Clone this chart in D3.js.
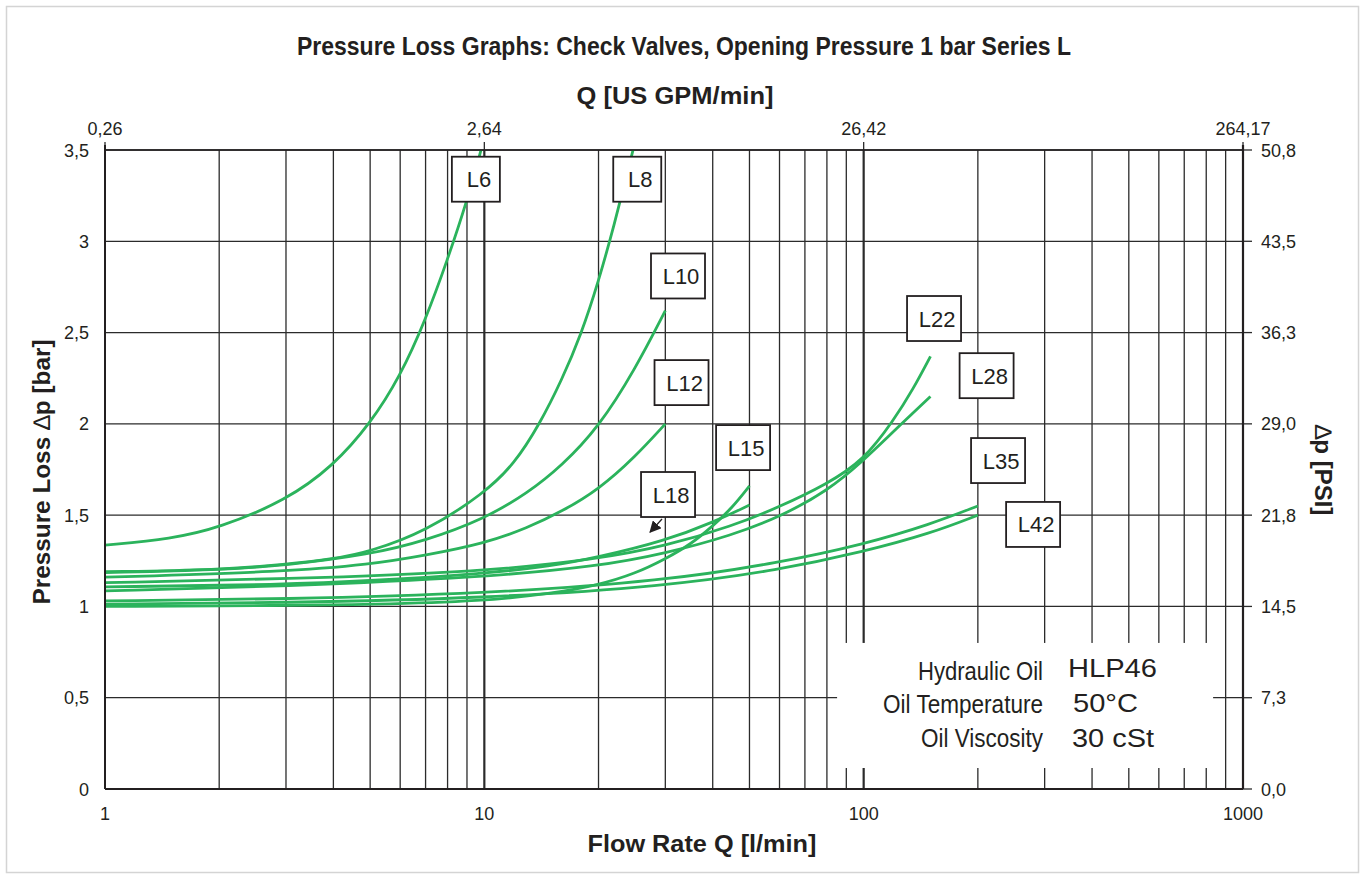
<!DOCTYPE html>
<html>
<head>
<meta charset="utf-8">
<script src="https://cdn.jsdelivr.net/npm/d3@7"></script>
<style>
  body { margin: 0; background: #fff; }
  text { font-family: "Liberation Sans", Arial, sans-serif; fill: #231f20; }
</style>
</head>
<body>
<script>
let width = 1368;
let height = 880;

// axis ticks and labels
const flowTicks = [1, 10, 100, 1000];
const gpmLabels = ["0,26", "2,64", "26,42", "264,17"];
const barTicks = [0, 0.5, 1, 1.5, 2, 2.5, 3, 3.5];
const barLabels = ["0", "0,5", "1", "1,5", "2", "2,5", "3", "3,5"];
const psiLabels = ["0,0", "7,3", "14,5", "21,8", "29,0", "36,3", "43,5", "50,8"];

// pressure loss curves, [Q l/min, dp bar]
const L6 = [[1, 1.336], [1.5, 1.37], [2, 1.43], [3, 1.58], [4, 1.77], [5, 2.0], [6, 2.26], [7, 2.57], [8, 2.9], [9, 3.22], [9.8, 3.5]];
const L8 = [[1, 1.19], [2, 1.2], [3, 1.23], [4, 1.26], [5, 1.3], [7, 1.41], [10, 1.62], [12, 1.78], [14, 2.0], [16, 2.24], [18, 2.49], [20, 2.78], [22, 3.09], [24, 3.4], [25, 3.55]];
const L10 = [[1, 1.185], [2, 1.2], [3, 1.225], [5, 1.285], [7, 1.36], [10, 1.48], [13, 1.62], [16, 1.77], [20, 1.98], [25, 2.3], [30, 2.62]];
const L12 = [[1, 1.16], [3, 1.19], [5, 1.23], [7, 1.28], [10, 1.345], [13, 1.43], [16, 1.52], [20, 1.64], [25, 1.82], [30, 2.0]];
const L15 = [[1, 1.0], [3, 1.005], [5, 1.01], [10, 1.03], [15, 1.07], [20, 1.117], [25, 1.18], [30, 1.26], [35, 1.34], [40, 1.44], [45, 1.54], [50, 1.66]];
const L18 = [[1, 1.107], [3, 1.12], [5, 1.14], [10, 1.18], [15, 1.22], [20, 1.27], [30, 1.36], [40, 1.46], [50, 1.555]];
const L22 = [[1, 1.13], [3, 1.15], [10, 1.19], [20, 1.26], [30, 1.33], [45, 1.44], [60, 1.545], [80, 1.67], [100, 1.8], [120, 2.02], [135, 2.19], [150, 2.37]];
const L28 = [[1, 1.085], [3, 1.11], [10, 1.16], [20, 1.22], [30, 1.29], [45, 1.39], [60, 1.49], [80, 1.63], [100, 1.8], [120, 1.96], [150, 2.15]];
const L35 = [[1, 1.03], [3, 1.04], [10, 1.07], [30, 1.14], [60, 1.24], [100, 1.34], [150, 1.45], [200, 1.55]];
const L42 = [[1, 1.013], [3, 1.02], [10, 1.045], [30, 1.11], [60, 1.2], [100, 1.3], [150, 1.4], [200, 1.5]];

const seriesNames = ["L6", "L8", "L10", "L12", "L15", "L18", "L22", "L28", "L35", "L42"];
const seriesData = [L6, L8, L10, L12, L15, L18, L22, L28, L35, L42];

// where the name boxes sit, in chart units [Q, bar]
const labelAt = {
  L6: [9.5, 3.34], L8: [25.3, 3.34], L10: [32.4, 2.81], L12: [33.1, 2.226],
  L15: [48.1, 1.87], L18: [30.5, 1.613], L22: [153.3, 2.577], L28: [210.9, 2.264],
  L35: [226.1, 1.799], L42: [279.7, 1.449]
};

const oilNames = ["Hydraulic Oil", "Oil Temperature", "Oil Viscosity"];
const oilValues = ["HLP46", "50°C", "30 cSt"];

let svg = d3.select("body").append("svg")
  .attr("width", width)
  .attr("height", height);

// light frame round the whole figure
svg.append("rect")
  .attr("x", 6.5).attr("y", 6.5)
  .attr("width", 1352).attr("height", 866)
  .attr("fill", "none").attr("stroke", "#d4d4d4").attr("stroke-width", 1.5);

let x = d3.scaleLog().domain([1, 1000]).range([105, 1243]);
let y = d3.scaleLinear().domain([0, 3.5]).range([789, 150]);

let grid = svg.append("g").attr("stroke", "#2b2b2b");

// vertical log grid
grid.selectAll("line.v")
  .data(x.ticks())
  .enter().append("line")
  .attr("class", "v")
  .attr("x1", d => x(d)).attr("x2", d => x(d))
  .attr("y1", y(0)).attr("y2", y(3.5))
  .attr("stroke-width", d => (d === 10 || d === 100) ? 2.2 : 1.3);

// horizontal grid
grid.selectAll("line.h")
  .data(barTicks)
  .enter().append("line")
  .attr("class", "h")
  .attr("x1", x(1)).attr("x2", x(1000))
  .attr("y1", d => y(d)).attr("y2", d => y(d))
  .attr("stroke-width", 1.3);

// right side ticks (psi)
grid.selectAll("line.r")
  .data(barTicks)
  .enter().append("line")
  .attr("x1", x(1000)).attr("x2", x(1000) + 9)
  .attr("y1", d => y(d)).attr("y2", d => y(d))
  .attr("stroke-width", 1.3);

// top ticks (gpm)
grid.selectAll("line.t")
  .data(flowTicks)
  .enter().append("line")
  .attr("x1", d => x(d)).attr("x2", d => x(d))
  .attr("y1", y(3.5)).attr("y2", y(3.5) - 8)
  .attr("stroke-width", 1.3);

// info box covers the grid
svg.append("rect")
  .attr("x", x(85.1)).attr("y", y(0.8))
  .attr("width", x(834) - x(85.1)).attr("height", y(0.115) - y(0.8))
  .attr("fill", "#fff");

let info = svg.append("g");
info.selectAll("text.name")
  .data(oilNames)
  .enter().append("text")
  .attr("x", 1043)
  .attr("y", (d, i) => 680 + i * 33.4)
  .attr("text-anchor", "end")
  .attr("font-size", 26)
  .attr("textLength", (d, i) => [125, 160, 122][i])
  .attr("lengthAdjust", "spacingAndGlyphs")
  .text(d => d);

info.selectAll("text.val")
  .data(oilValues)
  .enter().append("text")
  .attr("x", (d, i) => [1068, 1073, 1072][i])
  .attr("y", (d, i) => [677, 711.5, 746.5][i])
  .attr("font-size", 26)
  .attr("textLength", (d, i) => [89, 65, 82][i])
  .attr("lengthAdjust", "spacingAndGlyphs")
  .text(d => d);

// curves
svg.append("clipPath").attr("id", "plot")
  .append("rect")
  .attr("x", x(1)).attr("y", y(3.5))
  .attr("width", x(1000) - x(1)).attr("height", y(0) - y(3.5));

let line = d3.line()
  .x(d => x(d[0]))
  .y(d => y(d[1]))
  .curve(d3.curveBasis);

svg.append("g")
  .attr("clip-path", "url(#plot)")
  .selectAll("path")
  .data(seriesData)
  .enter().append("path")
  .attr("d", line)
  .attr("fill", "none")
  .attr("stroke", "#2bb35c")
  .attr("stroke-width", 2.8);

// frame
let frame = svg.append("g").attr("stroke", "#231f20");
frame.append("line").attr("x1", x(1)).attr("x2", x(1)).attr("y1", y(0)).attr("y2", y(3.5) - 5).attr("stroke-width", 2);
frame.append("line").attr("x1", x(1000)).attr("x2", x(1000)).attr("y1", y(0)).attr("y2", y(3.5) - 5).attr("stroke-width", 2.2);
frame.append("line").attr("x1", x(1)).attr("x2", x(1000)).attr("y1", y(0)).attr("y2", y(0)).attr("stroke-width", 2);
frame.append("line").attr("x1", x(1)).attr("x2", x(1000)).attr("y1", y(3.5)).attr("y2", y(3.5)).attr("stroke-width", 1.6);

// name boxes
let boxes = svg.append("g").selectAll("g")
  .data(seriesNames)
  .enter().append("g")
  .attr("transform", d => `translate(${x(labelAt[d][0])},${y(labelAt[d][1])})`);

boxes.append("rect")
  .attr("x", d => d.length > 2 ? -27 : -24)
  .attr("y", -22.5)
  .attr("width", d => d.length > 2 ? 54 : 48)
  .attr("height", 45)
  .attr("fill", "#fff")
  .attr("stroke", "#231f20")
  .attr("stroke-width", 1.8);

boxes.append("text")
  .attr("x", 3)
  .attr("y", 8)
  .attr("text-anchor", "middle")
  .attr("font-size", 22)
  .text(d => d);

// small arrow to L18
svg.append("defs").append("marker")
  .attr("id", "head")
  .attr("viewBox", "0 0 10 10")
  .attr("refX", 9).attr("refY", 5)
  .attr("markerWidth", 9).attr("markerHeight", 9)
  .attr("orient", "auto")
  .append("path").attr("d", "M0,0L10,5L0,10z").attr("fill", "#231f20");

svg.append("line")
  .attr("x1", x(29.4)).attr("y1", y(1.479))
  .attr("x2", x(27.35)).attr("y2", y(1.407))
  .attr("stroke", "#231f20").attr("stroke-width", 1.3)
  .attr("marker-end", "url(#head)");

// tick labels
svg.append("g").selectAll("text")
  .data(barTicks)
  .enter().append("text")
  .attr("x", 89).attr("y", d => y(d) + 6.5)
  .attr("text-anchor", "end").attr("font-size", 18)
  .text((d, i) => barLabels[i]);

svg.append("g").selectAll("text")
  .data(barTicks)
  .enter().append("text")
  .attr("x", 1261).attr("y", d => y(d) + 6.5)
  .attr("font-size", 18)
  .text((d, i) => psiLabels[i]);

svg.append("g").selectAll("text")
  .data(flowTicks)
  .enter().append("text")
  .attr("x", d => x(d)).attr("y", 820)
  .attr("text-anchor", "middle").attr("font-size", 18)
  .text(d => d);

svg.append("g").selectAll("text")
  .data(flowTicks)
  .enter().append("text")
  .attr("x", d => x(d)).attr("y", 135)
  .attr("text-anchor", "middle").attr("font-size", 18)
  .text((d, i) => gpmLabels[i]);

// titles
svg.append("text")
  .attr("x", 684).attr("y", 55)
  .attr("text-anchor", "middle")
  .attr("font-size", 25).attr("font-weight", "bold")
  .attr("textLength", 774).attr("lengthAdjust", "spacingAndGlyphs")
  .text("Pressure Loss Graphs: Check Valves, Opening Pressure 1 bar Series L");

svg.append("text")
  .attr("x", 675).attr("y", 104)
  .attr("text-anchor", "middle")
  .attr("font-size", 24).attr("font-weight", "bold")
  .attr("textLength", 197).attr("lengthAdjust", "spacingAndGlyphs")
  .text("Q [US GPM/min]");

svg.append("text")
  .attr("x", 702).attr("y", 852)
  .attr("text-anchor", "middle")
  .attr("font-size", 24).attr("font-weight", "bold")
  .attr("textLength", 229).attr("lengthAdjust", "spacingAndGlyphs")
  .text("Flow Rate  Q [l/min]");

let yTitle = svg.append("text")
  .attr("transform", "translate(50,472) rotate(-90)")
  .attr("text-anchor", "middle")
  .attr("font-size", 24).attr("font-weight", "bold")
  .attr("textLength", 265).attr("lengthAdjust", "spacingAndGlyphs");
yTitle.append("tspan").text("Pressure Loss  ");
yTitle.append("tspan").attr("font-weight", "normal").text("\u2206");
yTitle.append("tspan").text("p [bar]");

let psiTitle = svg.append("text")
  .attr("transform", "translate(1315,470) rotate(90)")
  .attr("text-anchor", "middle")
  .attr("font-size", 24).attr("font-weight", "bold");
psiTitle.append("tspan").attr("font-weight", "normal").text("\u2206");
psiTitle.append("tspan").text("p [PSI]");
</script>
</body>
</html>
